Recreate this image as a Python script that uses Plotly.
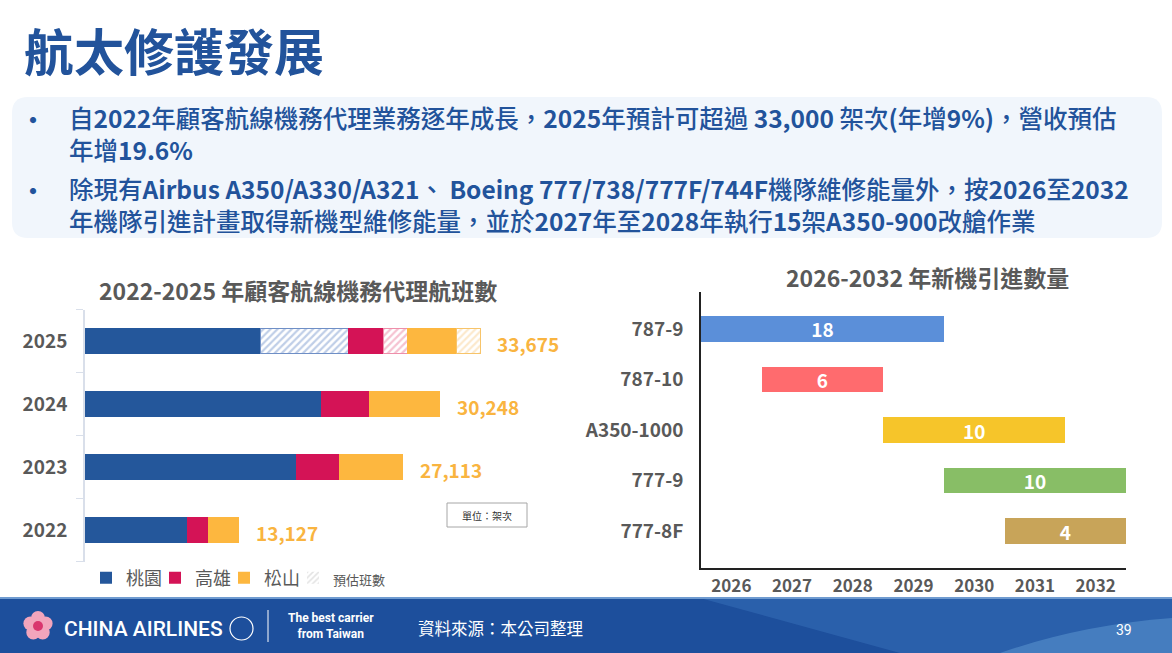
import plotly.graph_objects as go

W, H = 1172, 653
def px(x): return x / W
def py(y): return 1 - y / H

FONT = "Noto Sans CJK TC"
GRAY = "#595959"

# ---------------- Left chart data ----------------
years = ['2022', '2023', '2024', '2025']
taoyuan = [8690, 17990, 20110, 14920]
kaohsiung = [1790, 3670, 4090, 2980]
songshan = [2647, 5453, 6048, 4180]
est_year = ['2025']
taoyuan_est = [7500]
kaohsiung_est = [2050]
songshan_est = [2045]
totals = [13127, 27113, 30248, 33675]

# ---------------- Right chart data ----------------
models = ['787-9', '787-10', 'A350-1000', '777-9', '777-8F']
start_year = [2026, 2027, 2029, 2030, 2031]
end_year = [2029, 2028, 2031, 2032, 2032]
counts = [18, 6, 10, 10, 4]
model_colors = ['#5B8FD9', '#FF6B6E', '#F6C52A', '#88BE66', '#C8A459']
tick_years = [2026, 2027, 2028, 2029, 2030, 2031, 2032]

BLUE, RED, YEL = '#24579B', '#D41356', '#FDB73F'

fig = go.Figure()

def solid(name, xs, ys, color):
    fig.add_trace(go.Bar(name=name, x=xs, y=ys, orientation='h', width=0.41,
                         marker=dict(color=color, line=dict(width=0)),
                         xaxis='x', yaxis='y', hoverinfo='skip'))

def hatched(xs, ys, fg, line):
    fig.add_trace(go.Bar(x=xs, y=ys, orientation='h', width=0.41, showlegend=False,
                         marker=dict(color='white', line=dict(color=line, width=1),
                                     pattern=dict(shape='/', fgcolor=fg, size=5,
                                                  solidity=0.45, fillmode='overlay')),
                         xaxis='x', yaxis='y', hoverinfo='skip'))

solid('桃園', taoyuan, years, BLUE)
hatched(taoyuan_est, est_year, '#7F9DD0', '#6F8FC6')
solid('高雄', kaohsiung, years, RED)
hatched(kaohsiung_est, est_year, '#EC86A3', '#EE8FAA')
solid('松山', songshan, years, YEL)
hatched(songshan_est, est_year, '#F9D39A', '#F7C46A')
# legend-only entry for estimate
fig.add_trace(go.Bar(name='<span style="font-size:13px">預估班數</span>', x=[0], y=['2025'],
                     orientation='h', width=0.41,
                     marker=dict(color='white', line=dict(width=0),
                                 pattern=dict(shape='/', fgcolor='#C8C8C8', size=5,
                                              solidity=0.4, fillmode='overlay')),
                     xaxis='x', yaxis='y', hoverinfo='skip'))
# invisible spacer legend entry so the last legend label is not clipped
fig.add_trace(go.Bar(name=' ', x=[0], y=['2025'], orientation='h', width=0.41,
                     marker=dict(color='rgba(0,0,0,0)', line=dict(width=0)),
                     xaxis='x', yaxis='y', hoverinfo='skip'))

# right chart gantt bars
fig.add_trace(go.Bar(
    y=models, x=[e - s + 1 for s, e in zip(start_year, end_year)],
    base=[s - 0.5 for s in start_year], orientation='h', width=0.51,
    marker=dict(color=model_colors, line=dict(width=0)),
    text=[str(c) for c in counts], textposition='inside', insidetextanchor='middle',
    textangle=0, constraintext='none',
    textfont=dict(family=FONT, size=19, color='white', weight='bold'),
    showlegend=False, xaxis='x2', yaxis='y2', hoverinfo='skip'))

annotations = []
# total labels (y given as category index)
for i, t in enumerate(totals):
    annotations.append(dict(x=t, y=i, xref='x', yref='y', text=f"{t:,}", showarrow=False,
                            xanchor='left', yanchor='middle', xshift=15, yshift=-2,
                            font=dict(family=FONT, size=19, color='#F9B440', weight='bold')))

def ann(x, y, text, size, color, xanchor='center', weight='normal', family=FONT, align='center'):
    annotations.append(dict(x=px(x), y=py(y), xref='paper', yref='paper', text=text,
                            showarrow=False, xanchor=xanchor, yanchor='middle', align=align,
                            font=dict(family=family, size=size, color=color, weight=weight)))

# Title
ann(22, 49, '航太修護發展', 50, '#22539B', 'left', 'bold')

# Bullets
bullets = [
    (133, 118, "自<b>2022</b>年顧客航線機務代理業務逐年成長，<b>2025</b>年預計可超過 <b>33,000</b> 架次<b>(</b>年增<b>9%)</b>，營收預估"
               "<br>年增<b>19.6%</b>"),
    (204, 189, "除現有<b>Airbus A350/A330/A321</b>、 <b>Boeing 777/738/777F/744F</b>機隊維修能量外，按<b>2026</b>至<b>2032</b>"
               "<br>年機隊引進計畫取得新機型維修能量，並於<b>2027</b>年至<b>2028</b>年執行<b>15</b>架<b>A350-900</b>改艙作業"),
]
for ymid, ydot, txt in bullets:
    ann(33, ydot, '•', 24, '#22539B', 'center', 'bold')
    ann(67, ymid, txt, 24.5, '#22539B', 'left', 500, FONT, 'left')

# chart titles
ann(298, 290, '2022-2025 年顧客航線機務代理航班數', 23, GRAY, 'center', 'bold')
ann(927, 277, '2026-2032 年新機引進數量', 23, GRAY, 'center', 'bold')
# unit box text
ann(487, 515, '單位：架次', 10, '#333333')

# Footer texts
ann(62, 629, 'CHINA AIRLINES', 21, 'white', 'left', 500, 'Roboto')
ann(331, 626, 'The best carrier<br>from Taiwan', 12, 'white', 'center', 'bold', 'Liberation Sans Narrow, Roboto')
ann(416, 628, '資料來源：本公司整理', 16.5, 'white', 'left')
ann(1124, 630, '39', 14, 'white', 'center', 'normal', 'Roboto')

shapes = []
# rounded bullet box
x0, x1, y0, y1, r = 12, 1162, 97, 238, 16
path = (f"M {px(x0+r)},{py(y0)} L {px(x1-r)},{py(y0)} Q {px(x1)},{py(y0)} {px(x1)},{py(y0+r)} "
        f"L {px(x1)},{py(y1-r)} Q {px(x1)},{py(y1)} {px(x1-r)},{py(y1)} "
        f"L {px(x0+r)},{py(y1)} Q {px(x0)},{py(y1)} {px(x0)},{py(y1-r)} "
        f"L {px(x0)},{py(y0+r)} Q {px(x0)},{py(y0)} {px(x0+r)},{py(y0)} Z")
shapes.append(dict(type='path', path=path, xref='paper', yref='paper',
                   fillcolor='#F1F6FC', line=dict(width=0), layer='below'))
# unit box
shapes.append(dict(type='rect', xref='paper', yref='paper', x0=px(447), x1=px(527),
                   y0=py(527), y1=py(503), line=dict(color='#A6A6A6', width=1), fillcolor='white',
                   layer='below'))
# footer
shapes.append(dict(type='rect', xref='paper', yref='paper', x0=0, x1=1, y0=0, y1=py(598),
                   fillcolor='#1D4F9C', line=dict(width=0), layer='below'))
shapes.append(dict(type='path', xref='paper', yref='paper',
                   path=f"M {px(700)},{py(598)} L 1,{py(598)} L 1,0 L {px(900)},0 Z",
                   fillcolor='rgba(70,130,200,0.35)', line=dict(width=0), layer='below'))
shapes.append(dict(type='path', xref='paper', yref='paper',
                   path=f"M {px(1000)},0 Q {px(1080)},{py(625)} 1,{py(618)} L 1,0 Z",
                   fillcolor='rgba(120,180,230,0.35)', line=dict(width=0), layer='below'))
shapes.append(dict(type='line', xref='paper', yref='paper', x0=0, x1=1, y0=py(598), y1=py(598),
                   line=dict(color='#6F9BD0', width=2)))
# logo petals
for dx, dy in [(0, -8), (7.6, -2.5), (4.7, 6.5), (-4.7, 6.5), (-7.6, -2.5)]:
    cx, cy = 38 + dx, 626 + dy
    shapes.append(dict(type='circle', xref='paper', yref='paper', x0=px(cx-7), x1=px(cx+7),
                       y0=py(cy+7), y1=py(cy-7), fillcolor='#F2A5BC', line=dict(width=0)))
shapes.append(dict(type='circle', xref='paper', yref='paper', x0=px(33), x1=px(43),
                   y0=py(631), y1=py(621), fillcolor='#D9366E', line=dict(width=0)))
shapes.append(dict(type='circle', xref='paper', yref='paper', x0=px(230), x1=px(253),
                   y0=py(640), y1=py(617), line=dict(color='white', width=1.2)))
shapes.append(dict(type='line', xref='paper', yref='paper', x0=px(268), x1=px(268),
                   y0=py(642), y1=py(610), line=dict(color='white', width=1)))

fig.update_layout(
    width=W, height=H, margin=dict(l=0, r=0, t=0, b=0),
    paper_bgcolor='white', plot_bgcolor='rgba(0,0,0,0)',
    barmode='stack', showlegend=True,
    legend=dict(orientation='h', x=px(86), y=py(578), xanchor='left', yanchor='middle',
                font=dict(family=FONT, size=18, color=GRAY), bgcolor='rgba(0,0,0,0)',
                itemwidth=30, traceorder='normal', entrywidth=24, entrywidthmode='pixels'),
    xaxis=dict(domain=[px(85), px(570)], range=[0, 41300], showgrid=False, zeroline=False,
               showline=False, showticklabels=False, ticks='', fixedrange=True),
    yaxis=dict(domain=[py(561.5), py(309.5)], type='category', categoryorder='array',
               categoryarray=years, range=[-0.5, 3.5], showline=True, linecolor='#D9DFEA',
               linewidth=1.5, ticks='outside', tickson='boundaries', ticklen=7,
               tickcolor='#D9DFEA', showgrid=False, ticklabelstandoff=12,
               tickfont=dict(family=FONT, size=19, color=GRAY, weight='bold')),
    xaxis2=dict(domain=[px(701), px(1126)], range=[2025.5, 2032.5], anchor='y2',
                tickvals=tick_years, ticktext=[str(y) for y in tick_years],
                showline=True, linecolor='#222222', linewidth=1.5, showgrid=False,
                zeroline=False, ticks='', ticklabelstandoff=2,
                tickfont=dict(family=FONT, size=17, color=GRAY, weight='bold')),
    yaxis2=dict(domain=[py(568), py(292)], anchor='x2', type='category',
                categoryorder='array', categoryarray=models, range=[4.73, -0.73],
                showline=True, linecolor='#222222', linewidth=1.5, showgrid=False,
                ticks='', ticklabelstandoff=12,
                tickfont=dict(family=FONT, size=19, color=GRAY, weight='bold')),
    annotations=annotations, shapes=shapes,
)

fig.write_html("out.html")
